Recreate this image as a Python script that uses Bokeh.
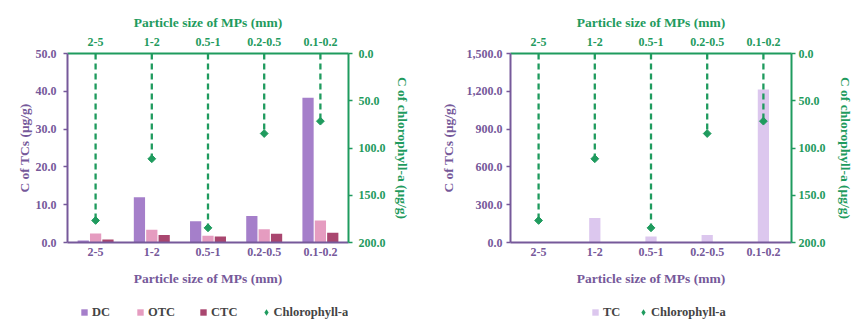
import math
from bokeh.plotting import figure
from bokeh.models import (FactorRange, Range1d, LinearAxis, CategoricalAxis, FixedTicker,
                          NumeralTickFormatter, Legend, LegendItem, ColumnDataSource)
from bokeh.transform import dodge
from bokeh.layouts import row, column
from bokeh.embed import file_html
from bokeh.resources import INLINE

# ---------------- data ----------------
sizes = ["2-5", "1-2", "0.5-1", "0.2-0.5", "0.1-0.2"]
dc = [0.5, 12.0, 5.6, 7.0, 38.3]
otc = [2.4, 3.4, 1.8, 3.5, 5.8]
ctc = [0.8, 2.0, 1.6, 2.3, 2.6]
tc = [4.0, 194.0, 48.0, 59.0, 1214.0]
chl = [176.7, 111.4, 184.5, 84.7, 71.6]
left_ticks_a = [0, 10, 20, 30, 40, 50]
left_ticks_b = [0, 300, 600, 900, 1200, 1500]
chl_ticks = [0, 50, 100, 150, 200]

# ---------------- style ----------------
PURPLE = "#76599a"
GREEN = "#1f9b5e"
C_DC = "#a57fca"
C_OTC = "#e59cc0"
C_CTC = "#a9466f"
C_TC = "#dcc7ee"
FONT = "Liberation Serif"

CHART_H = 294
LEG_H = 336 - CHART_H


def style_axis(ax, color, tick_out=4):
    ax.axis_line_color = color
    ax.axis_line_width = 2
    ax.major_tick_line_color = color
    ax.major_tick_line_width = 1.5
    ax.major_tick_in = 0
    ax.major_tick_out = tick_out
    ax.minor_tick_line_color = None
    ax.major_label_text_font = FONT
    ax.major_label_text_font_style = "bold"
    ax.major_label_text_font_size = "12px"
    ax.major_label_text_color = color
    ax.axis_label_text_font = FONT
    ax.axis_label_text_font_style = "bold"
    ax.axis_label_text_font_size = "13.5px"
    ax.axis_label_text_color = color


def make_panel(ymax, yticks, bars, legend_x, legend_spacing, mb_left, mb_right,
               left_std, right_std, ltitle_std, rtitle_std):
    data = dict(size=sizes, chl=chl)
    for name, vals, _, _ in bars:
        data[name] = vals
    src = ColumnDataSource(data)

    p = figure(width=434, height=CHART_H, x_range=FactorRange(*sizes, range_padding=0),
               y_range=Range1d(0, ymax), output_backend="svg", toolbar_location=None,
               x_axis_location=None, y_axis_location=None,
               min_border_left=mb_left, min_border_right=mb_right,
               min_border_top=53, min_border_bottom=CHART_H - 242)
    p.extra_y_ranges = {"chl": Range1d(200, 0)}
    p.outline_line_color = None
    p.xgrid.visible = False
    p.ygrid.visible = False
    p.background_fill_color = "white"
    p.border_fill_color = "white"

    left = LinearAxis(ticker=FixedTicker(ticks=yticks),
                      formatter=NumeralTickFormatter(format="0,0.0"),
                      axis_label="C of TCs (\u03bcg/g)")
    style_axis(left, PURPLE)
    left.major_label_standoff = left_std
    left.axis_label_standoff = ltitle_std
    p.add_layout(left, "left")

    right = LinearAxis(y_range_name="chl", ticker=FixedTicker(ticks=chl_ticks),
                       formatter=NumeralTickFormatter(format="0,0.0"),
                       axis_label="C of chlorophyll-a (\u03bcg/g)")
    style_axis(right, GREEN)
    right.major_label_standoff = right_std
    right.axis_label_standoff = rtitle_std
    p.add_layout(right, "right")

    bottom = CategoricalAxis(axis_label="Particle size of MPs (mm)")
    style_axis(bottom, PURPLE, tick_out=0)
    bottom.major_tick_line_color = None
    bottom.major_label_standoff = 5
    bottom.axis_label_standoff = 12
    p.add_layout(bottom, "below")

    top = CategoricalAxis(axis_label="Particle size of MPs (mm)")
    style_axis(top, GREEN, tick_out=0)
    top.major_tick_line_color = None
    top.major_label_standoff = 8
    top.axis_label_standoff = 5
    p.add_layout(top, "above")

    # bars
    for name, vals, color, off in bars:
        p.vbar(x=dodge("size", off, range=p.x_range), top=name, width=0.2, source=src,
               fill_color=color, line_color=None)

    # chlorophyll drop lines + markers
    p.segment(x0="size", y0=0, x1="size", y1="chl", source=src, y_range_name="chl",
              line_color=GREEN, line_width=2.3, line_dash="6 4")
    p.scatter(x="size", y="chl", source=src, y_range_name="chl", marker="square",
              angle=math.pi / 4, size=5.5, fill_color=GREEN, line_color=GREEN)

    # legend strip: a separate, axis-less figure under the chart
    lf = figure(width=434, height=LEG_H, x_range=Range1d(0, 1), y_range=Range1d(0, 1),
                output_backend="svg", toolbar_location=None,
                x_axis_location=None, y_axis_location=None,
                min_border_left=mb_left, min_border_right=mb_right,
                min_border_top=0, min_border_bottom=0)
    lf.outline_line_color = None
    lf.xgrid.visible = False
    lf.ygrid.visible = False
    lf.background_fill_color = "white"
    lf.border_fill_color = "white"
    items = []
    # proxy markers placed outside the strip's visible range (legend swatches only)
    for name, vals, color, off in bars:
        r = lf.scatter(x=[0.5], y=[-5], marker="square", size=6, fill_color=color,
                       line_color=None)
        items.append(LegendItem(label=name, renderers=[r]))
    rd = lf.scatter(x=[0.5], y=[-5], marker="diamond", size=8, fill_color=GREEN,
                    line_color=None)
    items.append(LegendItem(label="Chlorophyll-a", renderers=[rd]))
    leg = Legend(items=items, location=(legend_x, LEG_H - 18 - 8), orientation="horizontal",
                 glyph_width=16, glyph_height=16, label_standoff=0, spacing=legend_spacing,
                 padding=0, margin=0, border_line_color=None, background_fill_alpha=0,
                 label_text_font=FONT, label_text_font_style="bold",
                 label_text_font_size="12.5px", label_height=16)
    lf.add_layout(leg)
    return column(p, lf, spacing=0)


c1 = make_panel(50, left_ticks_a,
                [("DC", dc, C_DC, -0.22), ("OTC", otc, C_OTC, 0.0), ("CTC", ctc, C_CTC, 0.22)],
                9, 20, 67, 86, 7, 6, 1, 6)
c2 = make_panel(1500, left_ticks_b,
                [("TC", tc, C_TC, 0.0)],
                77, 12, 76, 77, 4, 3, 8, 9)

layout = row(c1, c2, spacing=0)
open("out.html", "w").write(file_html(layout, INLINE))
